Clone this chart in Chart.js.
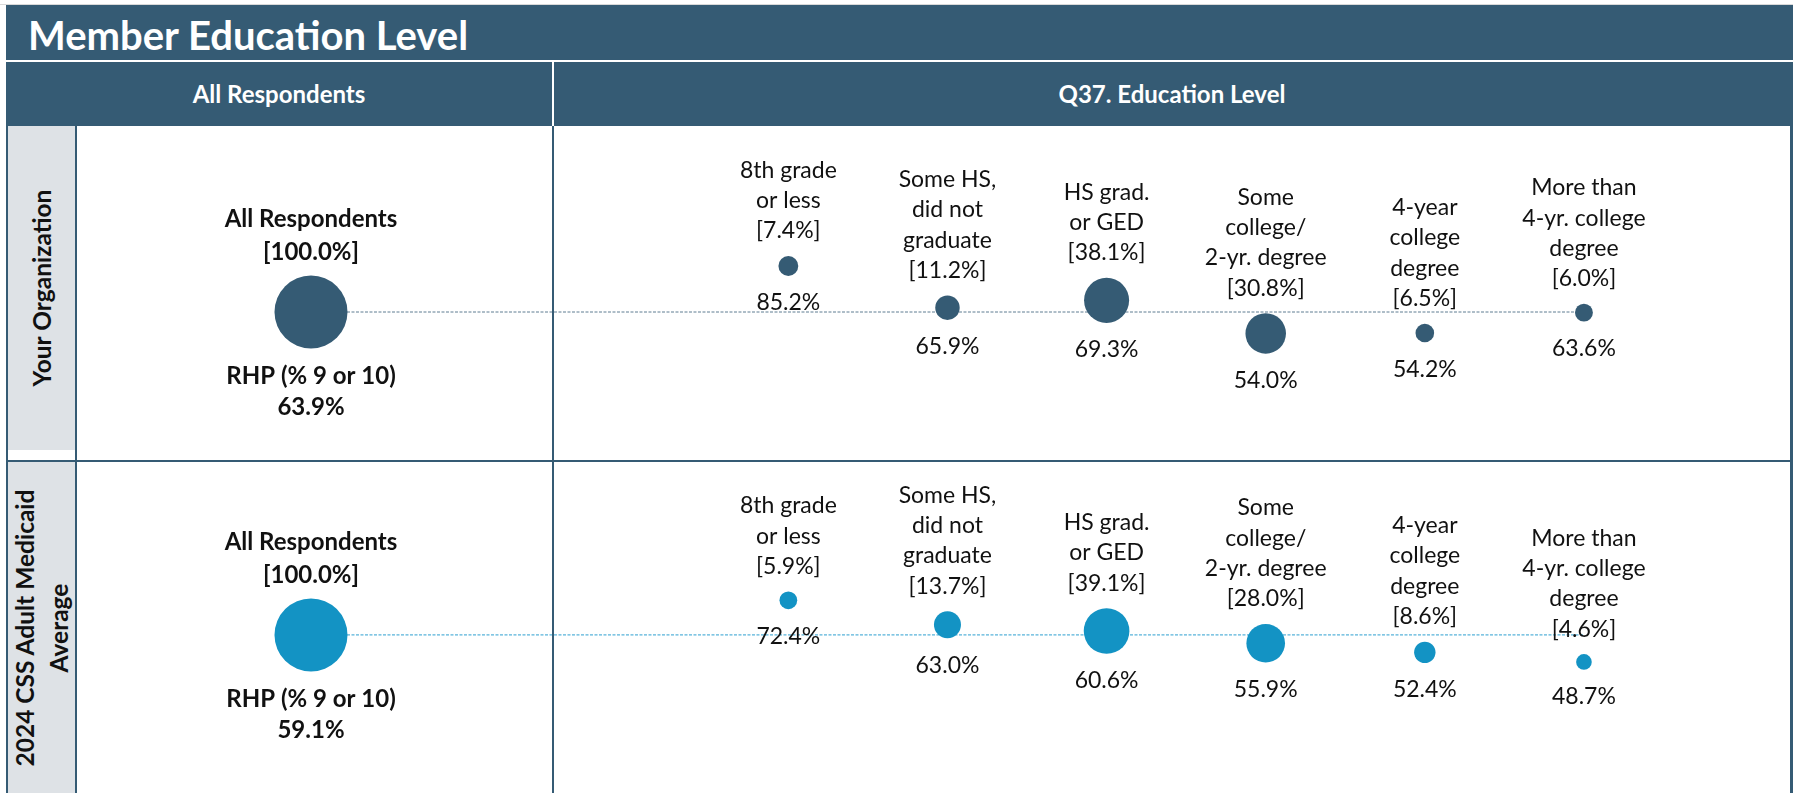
<!DOCTYPE html>
<html>
<head>
<meta charset="utf-8">
<script src="https://cdn.jsdelivr.net/npm/chart.js@4"></script>
<style>
  html, body { margin:0; padding:0; background:#fff; }
  body { width:1793px; height:793px; position:relative; overflow:hidden; font-family:Lato, "Open Sans", sans-serif; }
  .box { position:absolute; }
  .navy { background:#355b74; }
  .hdr { position:absolute; color:#fff; font-weight:700; font-size:24px; top:62px; height:64px; line-height:64px; text-align:center; }
  .rowlab { position:absolute; left:8px; width:67px; background:#dee2e6; }
  .rowlab div { position:absolute; left:50%; top:50%; transform:translate(-50%,-50%) rotate(-90deg);
                white-space:nowrap; font-weight:700; font-size:24.5px; line-height:34px; text-align:center; color:#111; }
  canvas { position:absolute; }
</style>
</head>
<body>
<div class="box" style="left:0;top:4px;width:1793px;height:1px;background:#d9d9d9"></div>
<div class="box navy" style="left:6px;top:5px;width:1787px;height:55px"></div>
<div class="box" style="left:28px;top:5px;height:55px;line-height:60px;color:#fff;font-weight:700;font-size:40px">Member Education Level</div>
<div class="box navy" style="left:6px;top:62px;width:1787px;height:64px"></div>
<div class="box" style="left:552px;top:62px;width:2px;height:64px;background:#fff"></div>
<div class="hdr" style="left:6px;width:546px">All Respondents</div>
<div class="hdr" style="left:554px;width:1236px">Q37. Education Level</div>

<div class="rowlab" style="top:126px;height:324px"><div>Your Organization</div></div>
<div class="rowlab" style="top:462px;height:331px"><div>2024 CSS Adult Medicaid<br>Average</div></div>

<canvas id="orgChart" width="1713" height="334" style="left:77px;top:126px"></canvas>
<canvas id="avgChart" width="1713" height="331" style="left:77px;top:462px"></canvas>

<!-- grid lines of the table, drawn above the charts -->
<div class="box navy" style="left:6px;top:126px;width:2px;height:667px"></div>
<div class="box navy" style="left:75px;top:126px;width:2px;height:667px"></div>
<div class="box navy" style="left:552px;top:126px;width:2px;height:667px"></div>
<div class="box navy" style="left:1790px;top:126px;width:3px;height:667px"></div>
<div class="box navy" style="left:6px;top:460px;width:1787px;height:2px"></div>

<script>
const categories = [
    ['8th grade', 'or less'],
    ['Some HS,', 'did not', 'graduate'],
    ['HS grad.', 'or GED'],
    ['Some', 'college/', '2-yr. degree'],
    ['4-year', 'college', 'degree'],
    ['More than', '4-yr. college', 'degree']
];

// Your Organization: share of respondents and RHP (% 9 or 10)
const orgShare = [7.4, 11.2, 38.1, 30.8, 6.5, 6.0];
const orgRhp   = [85.2, 65.9, 69.3, 54.0, 54.2, 63.6];
const orgTotalRhp = 63.9;

// 2024 CSS Adult Medicaid Average
const avgShare = [5.9, 13.7, 39.1, 28.0, 8.6, 4.6];
const avgRhp   = [72.4, 63.0, 60.6, 55.9, 52.4, 48.7];
const avgTotalRhp = 59.1;

const totalShare = 100.0;

const FULL_R = 36.5;        // radius of the 100% bubble
const FIRST_SLOT = 3;       // category bubbles start three slots right of the total bubble
const LABEL_FONT = '23px Lato, "Open Sans", sans-serif';
const BOLD_FONT  = 'bold 24px Lato, "Open Sans", sans-serif';

const bubbleR = share => FULL_R * Math.sqrt(share / 100);
const pct = v => v.toFixed(1) + '%';

// writes the category / share text above each bubble and the RHP value below
const bubbleLabels = {
    id: 'bubbleLabels',
    afterDatasetsDraw(chart) {
        const ctx = chart.ctx;
        ctx.save();
        ctx.fillStyle = '#111';
        ctx.textAlign = 'center';
        ctx.textBaseline = 'middle';
        chart.data.datasets.forEach((ds, di) => {
            if (!ds.labelLines) return;
            chart.getDatasetMeta(di).data.forEach((el, i) => {
                const r = el.options.radius;
                const lines = ds.labelLines[i];
                const step = ds.bold ? 33 : 30.3;
                ctx.font = ds.bold ? BOLD_FONT : LABEL_FONT;
                lines.forEach((t, k) => {
                    ctx.fillText(t, el.x, el.y - r - (ds.bold ? 23 : 25) - (lines.length - 1 - k) * step);
                });
                const below = ds.belowLines[i];
                below.forEach((t, k) => {
                    ctx.fillText(t, el.x, el.y + r + (ds.bold ? 28 : 27) + k * (ds.bold ? 31 : 30.3));
                });
            });
        });
        ctx.restore();
    }
};

function buildChart(id, share, rhp, totalRhp, color, lineColor, yMin, yMax) {
    const lastX = FIRST_SLOT + categories.length - 1;
    return new Chart(document.getElementById(id), {
        type: 'bubble',
        data: {
            datasets: [
                {
                    data: rhp.map((v, i) => ({ x: FIRST_SLOT + i, y: v, r: bubbleR(share[i]) })),
                    backgroundColor: color, borderWidth: 0, order: 1,
                    labelLines: categories.map((c, i) => c.concat('[' + pct(share[i]) + ']')),
                    belowLines: rhp.map(v => [pct(v)])
                },
                {
                    data: [{ x: 0, y: totalRhp, r: bubbleR(totalShare) }],
                    backgroundColor: color, borderWidth: 0, order: 1, bold: true,
                    labelLines: [['All Respondents', '[' + pct(totalShare) + ']']],
                    belowLines: [['RHP (% 9 or 10)', pct(totalRhp)]]
                },
                {
                    type: 'line',
                    data: [{ x: 0, y: totalRhp }, { x: lastX, y: totalRhp }],
                    borderColor: lineColor, borderWidth: 1, borderDash: [3, 1.5],
                    pointRadius: 0, order: 2
                }
            ]
        },
        options: {
            responsive: false,
            animation: false,
            events: [],
            layout: { padding: 0, autoPadding: false },
            plugins: { legend: { display: false }, tooltip: { enabled: false } },
            scales: {
                x: { type: 'linear', display: false, min: -1.4706, max: 9.295 },
                y: { type: 'linear', display: false, min: yMin, max: yMax }
            }
        },
        plugins: [bubbleLabels]
    });
}

buildChart('orgChart', orgShare, orgRhp, orgTotalRhp, '#355b74', '#5f7d92', -4.6, 150.0);
buildChart('avgChart', avgShare, avgRhp, avgTotalRhp, '#1393c4', '#2c9fd0', -1.7, 125.6);
</script>
</body>
</html>
